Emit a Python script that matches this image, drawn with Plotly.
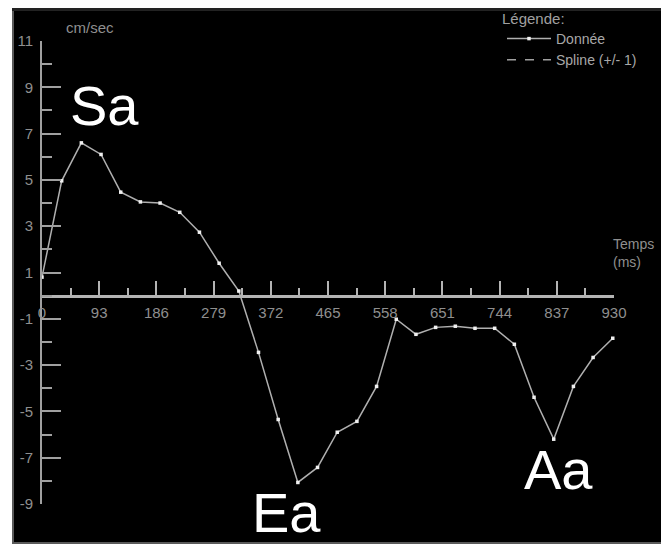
import plotly.graph_objects as go

# ---- data ----
temps_ms = [0, 32, 64, 96, 128, 160, 192, 224, 256, 288, 320, 352, 384, 416, 448,
            480, 512, 544, 576, 608, 640, 672, 704, 736, 768, 800, 832, 864, 896, 928]
vitesse = [0.8, 4.96, 6.6, 6.1, 4.47, 4.05, 4.0, 3.6, 2.74, 1.4, 0.2, -2.45, -5.35, -8.07, -7.42,
           -5.9, -5.43, -3.92, -1.02, -1.67, -1.37, -1.32, -1.41, -1.41, -2.1, -4.39, -6.2, -3.92, -2.67, -1.84]

x_ticks = [0, 93, 186, 279, 372, 465, 558, 651, 744, 837, 930]
x_tick_labels = ["0", "93", "186", "279", "372", "465", "558", "651", "744", "837", "930"]
x_minor = [46.5, 139.5, 232.5, 325.5, 418.5, 511.5, 604.5, 697.5, 790.5, 883.5]
y_ticks = [11, 9, 7, 5, 3, 1, -1, -3, -5, -7, -9]
y_minor = [10, 8, 6, 4, 2, 0, -2, -4, -6, -8]

peaks = ["Sa", "Ea", "Aa"]
peak_x = [102, 398, 840]
peak_y = [8.2, -9.35, -7.5]

# the page body adds an 8px offset, so the figure covers the window from (8, 8)
OFF = 8
WIN_W, WIN_H = 669, 546
W, H = WIN_W - OFF, WIN_H - OFF
# plot area in window pixels: x 42..614, y 41..504
PL, PR, PT, PB = 42, 614, 41, 504
L, R, T, B = PL - OFF, W - (PR - OFF), PT - OFF, H - (PB - OFF)
GRAY = "#8f8f8f"
FONT = "Liberation Sans, Arial, sans-serif"
YMIN, YMAX = -9, 11


def px2paper_x(p):
    return (p - PL) / (PR - PL)


def px2paper_y(p):
    return (PB - p) / (PB - PT)


fig = go.Figure()
fig.add_trace(go.Scatter(
    x=temps_ms, y=vitesse, mode="lines+markers", name="Donnée",
    line=dict(color="#b0b0b0", width=1.5),
    marker=dict(symbol="square", size=3.5, color="#f0f0f0", line=dict(width=0)),
    cliponaxis=False,
))
fig.add_trace(go.Scatter(
    x=[None], y=[None], mode="lines", name="Spline (+/- 1)",
    line=dict(color="#a0a0a0", width=1.5, dash="dash"),
))

for t, px_, py_ in zip(peaks, peak_x, peak_y):
    fig.add_annotation(x=px_ / 930, y=(py_ - YMIN) / (YMAX - YMIN), xref="paper", yref="paper",
                       text=t, showarrow=False, xanchor="center", yanchor="middle",
                       font=dict(family=FONT, size=56, color="white"))

fig.add_annotation(x=px2paper_x(64), y=px2paper_y(28), xref="paper", yref="paper", text="cm/sec",
                   showarrow=False, xanchor="left", yanchor="middle",
                   font=dict(family=FONT, size=15, color=GRAY))
fig.add_annotation(x=px2paper_x(611), y=px2paper_y(234), xref="paper", yref="paper",
                   text="Temps<br>(ms)", showarrow=False, xanchor="left", yanchor="top",
                   align="left", font=dict(family=FONT, size=14, color=GRAY))
fig.add_annotation(x=px2paper_x(500), y=px2paper_y(18), xref="paper", yref="paper",
                   text="Légende:", showarrow=False, xanchor="left", yanchor="middle",
                   font=dict(family=FONT, size=15, color="#a0a0a0"))

# frame decoration (window pixel coordinates)
frame = [
    (12, 0, 14, 544, "#5a5a5a"),
    (12, 0, WIN_W + 5, 11, "#222222"),
    (12, 542, WIN_W + 5, 544, "#5a5a5a"),
    (0, 544, WIN_W + 5, WIN_H + 5, "white"),
    (0, 0, 12, WIN_H + 5, "white"),
]
for x0, y0, x1, y1, c in frame:
    fig.add_shape(type="rect", xref="paper", yref="paper",
                  x0=px2paper_x(x0), x1=px2paper_x(x1),
                  y0=px2paper_y(y0), y1=px2paper_y(y1),
                  fillcolor=c, line=dict(width=0), layer="below")

fig.update_layout(
    width=W, height=H,
    margin=dict(l=L, r=R, t=T, b=B, autoexpand=False),
    paper_bgcolor="black", plot_bgcolor="black",
    showlegend=True,
    legend=dict(
        x=px2paper_x(502), y=px2paper_y(23), xanchor="left", yanchor="top",
        bgcolor="rgba(0,0,0,0)", font=dict(family=FONT, size=14, color="#a8a8a8"),
        itemwidth=44, tracegroupgap=0,
    ),
    xaxis=dict(
        range=[0, 930], anchor="free", position=(0 - YMIN) / (YMAX - YMIN),
        showgrid=False, zeroline=False, automargin=False,
        showline=True, linecolor="#b4b4b4", linewidth=2.5,
        tickmode="array", tickvals=x_ticks, ticktext=x_tick_labels,
        ticks="inside", ticklen=14, tickwidth=2, tickcolor="#b4b4b4",
        ticklabelstandoff=3,
        tickfont=dict(family=FONT, size=15, color=GRAY),
        minor=dict(tickvals=x_minor, ticks="inside", ticklen=7, tickwidth=2, tickcolor="#b4b4b4"),
    ),
    yaxis=dict(
        range=[YMIN, YMAX], automargin=False,
        showgrid=False, zeroline=False,
        showline=True, linecolor="#a0a0a0", linewidth=2,
        tickmode="array", tickvals=y_ticks, ticktext=[str(v) for v in y_ticks],
        ticks="inside", ticklen=19, tickwidth=2, tickcolor="#a0a0a0",
        ticklabelstandoff=4,
        tickfont=dict(family=FONT, size=15, color=GRAY),
        minor=dict(tickvals=y_minor, ticks="inside", ticklen=10, tickwidth=2, tickcolor="#a0a0a0"),
    ),
)

fig.write_html("out.html")
